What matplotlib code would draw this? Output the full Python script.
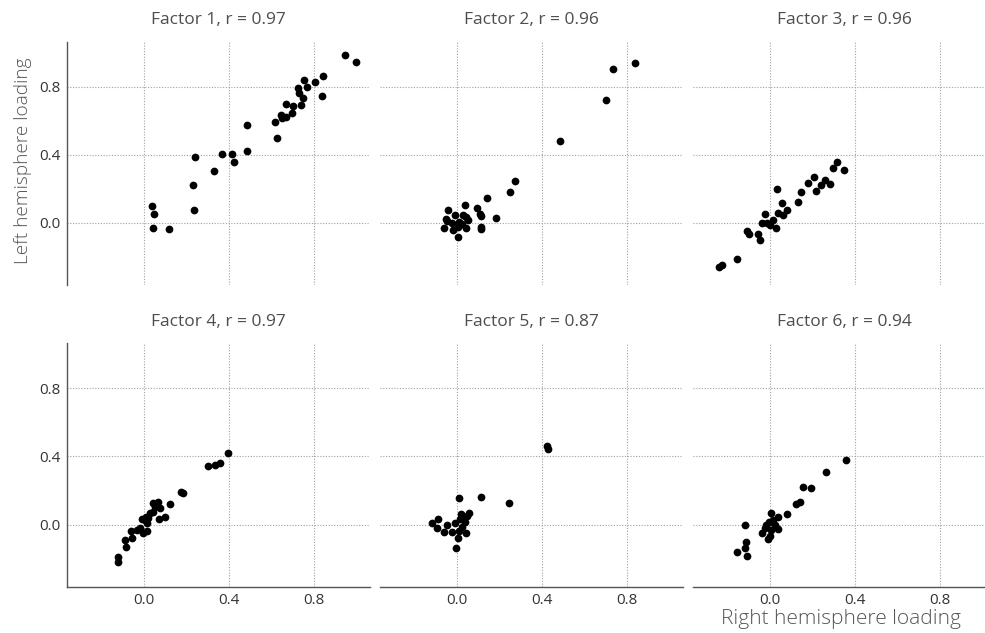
import numpy as np
import matplotlib
matplotlib.use("Agg")
import matplotlib.pyplot as plt

plt.rcParams['font.family'] = ['Open Sans', 'DejaVu Sans']

# loadings: right hemisphere (x) vs left hemisphere (y)
f1_right = [0.944, 0.996, 0.841, 0.803, 0.751, 0.767, 0.726, 0.729, 0.748, 0.839,
            0.739, 0.701, 0.667, 0.697, 0.647, 0.670, 0.651, 0.615, 0.628, 0.487,
            0.487, 0.369, 0.415, 0.424, 0.330, 0.241, 0.233, 0.235, 0.036, 0.045,
            0.044, 0.116]
f1_left = [0.986, 0.947, 0.863, 0.827, 0.837, 0.800, 0.790, 0.761, 0.735, 0.743,
           0.690, 0.684, 0.696, 0.643, 0.633, 0.624, 0.618, 0.590, 0.496, 0.578,
           0.425, 0.406, 0.406, 0.355, 0.308, 0.388, 0.222, 0.076, 0.102, 0.055,
           -0.029, -0.037]

f2_right = [0.838, 0.736, 0.703, 0.485, 0.275, 0.249, 0.140, 0.182, 0.096, 0.110,
            0.111, 0.111, 0.113, 0.039, -0.041, -0.053, -0.009, 0.027, 0.042, 0.053,
            0.011, -0.025, -0.061, -0.017, 0.006, 0.042, 0.006, -0.049, 0.022]
f2_left = [0.941, 0.902, 0.724, 0.480, 0.249, 0.184, 0.145, 0.029, 0.090, 0.055,
           0.039, -0.024, -0.037, 0.104, 0.075, 0.025, 0.049, 0.049, 0.035, 0.016,
           0.006, 0.000, -0.031, -0.043, -0.024, -0.029, -0.084, 0.012, -0.004]

f3_right = [0.314, 0.295, 0.348, 0.207, 0.179, 0.257, 0.238, 0.282, 0.218, 0.144,
            0.130, 0.033, 0.058, 0.080, 0.039, 0.063, -0.022, -0.039, -0.013, 0.013,
            0.000, 0.030, -0.107, -0.100, -0.055, -0.047, -0.154, -0.227, -0.240]
f3_left = [0.355, 0.325, 0.310, 0.267, 0.237, 0.255, 0.225, 0.229, 0.188, 0.180,
           0.124, 0.198, 0.120, 0.076, 0.059, 0.049, 0.055, 0.000, 0.002, 0.016,
           -0.010, -0.027, -0.047, -0.063, -0.063, -0.100, -0.210, -0.249, -0.257]

f4_right = [0.395, 0.360, 0.332, 0.299, 0.182, 0.174, 0.122, 0.067, 0.044, 0.075,
            0.100, 0.070, 0.044, 0.028, 0.020, 0.005, -0.011, 0.013, -0.019, -0.003,
            0.016, -0.031, -0.063, -0.058, -0.089, -0.085, -0.124, -0.124, 0.009, 0.052]
f4_left = [0.419, 0.364, 0.348, 0.346, 0.184, 0.190, 0.123, 0.135, 0.129, 0.096,
           0.047, 0.033, 0.076, 0.067, 0.037, 0.027, 0.033, 0.008, -0.022, -0.051,
           -0.037, -0.031, -0.035, -0.080, -0.090, -0.133, -0.192, -0.217, 0.047, 0.106]

f5_right = [0.422, 0.430, 0.115, 0.243, 0.008, 0.058, 0.049, 0.019, 0.014, 0.038,
            -0.008, 0.042, 0.008, -0.024, 0.003, -0.003, -0.061, -0.049, -0.088, -0.119,
            -0.096, 0.022, 0.030]
f5_left = [0.462, 0.444, 0.164, 0.125, 0.155, 0.070, 0.051, 0.063, 0.031, 0.018,
           0.012, -0.051, -0.037, -0.041, -0.078, -0.137, -0.045, 0.000, 0.031, 0.008,
           -0.022, -0.012, 0.037]

f6_right = [0.357, 0.265, 0.194, 0.156, 0.142, 0.121, 0.082, 0.039, 0.003, 0.016,
            -0.006, -0.019, 0.039, 0.024, 0.006, 0.000, -0.011, -0.039, -0.118, -0.115,
            -0.118, -0.154, -0.107, -0.024]
f6_left = [0.380, 0.307, 0.213, 0.223, 0.135, 0.119, 0.061, 0.047, 0.067, 0.027,
           0.018, -0.002, -0.027, -0.002, -0.031, -0.067, -0.084, -0.051, -0.002, -0.100,
           -0.139, -0.162, -0.182, -0.022]

factor_r = [0.97, 0.96, 0.96, 0.97, 0.87, 0.94]
right_sets = [f1_right, f2_right, f3_right, f4_right, f5_right, f6_right]
left_sets = [f1_left, f2_left, f3_left, f4_left, f5_left, f6_left]
tick_vals = [0.0, 0.4, 0.8]

W, H = 985, 633
fig = plt.figure(figsize=(W / 100, H / 100), dpi=100)

# panel geometry in pixels (third panel runs a bit past the right edge, as in the original)
left0 = 66.7
pitch = 313.0
pw = 303.3
row_top = [41.7, 343.3]
ph = 243.3
lim = (-0.364, 1.064)

for i in range(6):
    row, col = divmod(i, 3)
    x0 = left0 + col * pitch
    y0 = row_top[row]
    ax = fig.add_axes([x0 / W, 1 - (y0 + ph) / H, pw / W, ph / H])

    ax.scatter(right_sets[i], left_sets[i], s=31, color='black', linewidths=0, zorder=3)

    ax.set_xlim(lim)
    ax.set_ylim(lim)
    ax.set_xticks(tick_vals)
    ax.set_yticks(tick_vals)
    ax.set_xticklabels(['%.1f' % t for t in tick_vals])
    ax.set_yticklabels(['%.1f' % t for t in tick_vals])
    ax.grid(True, linestyle=(0, (1, 1.5)), color='#a0a0a0', linewidth=0.8, zorder=0)
    ax.set_axisbelow(True)
    ax.tick_params(length=0, labelsize=11, colors='#333333', pad=4.5)

    for side in ['top', 'right', 'left', 'bottom']:
        ax.spines[side].set_visible(False)
    if col == 0:
        ax.spines['left'].set_visible(True)
        ax.spines['left'].set_color('#555555')
        ax.spines['left'].set_linewidth(1.0)
    else:
        ax.tick_params(labelleft=False)
    if row == 1:
        ax.spines['bottom'].set_visible(True)
        ax.spines['bottom'].set_color('#555555')
        ax.spines['bottom'].set_linewidth(1.0)
    else:
        ax.tick_params(labelbottom=False)

    ax.set_title('Factor %d, r = %.2f' % (i + 1, factor_r[i]), fontsize=12.5,
                 color='#4d4d4d', pad=12.5)

fig.text(23 / W, 1 - 57 / H, 'Left hemisphere loading', rotation=90,
         ha='center', va='top', fontsize=13.7, color='#555555', fontweight='light')
fig.text(961 / W, 1 - 619 / H, 'Right hemisphere loading',
         ha='right', va='center', fontsize=15, color='#555555', fontweight='light')

fig.savefig('out.png', dpi=100)
